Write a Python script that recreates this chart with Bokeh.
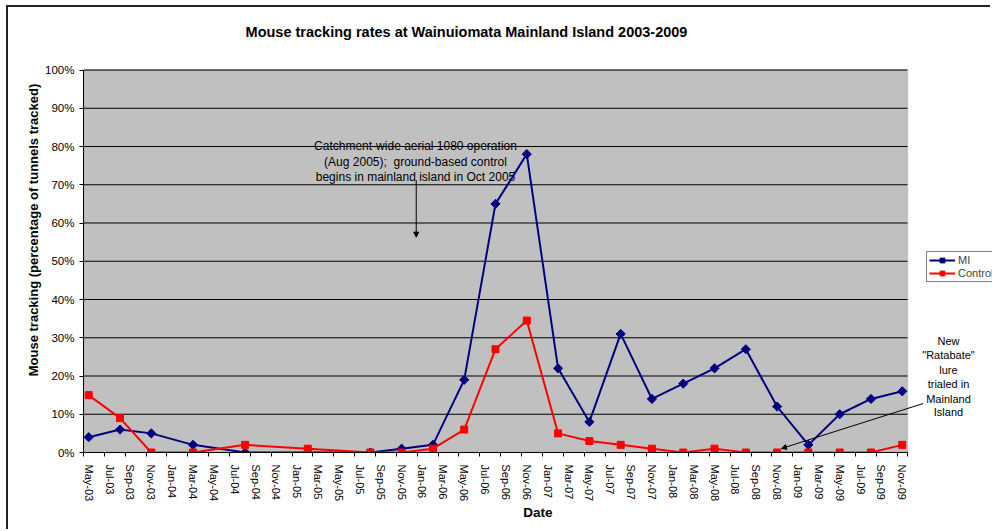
import math
import pandas as pd
from bokeh.plotting import figure
from bokeh.models import (Range1d, FixedTicker, PrintfTickFormatter, Legend, LegendItem,
                          Label, Arrow, NormalHead, BoxAnnotation)
from bokeh.embed import file_html
from bokeh.resources import INLINE

# ---------------- data ----------------
survey_dates = ["May-03", "Aug-03", "Nov-03", "Mar-04", "Aug-04", "Feb-05", "Aug-05", "Nov-05",
                "Feb-06", "May-06", "Aug-06", "Nov-06", "Feb-07", "May-07", "Aug-07", "Nov-07",
                "Feb-08", "May-08", "Aug-08", "Nov-08", "Feb-09", "May-09", "Aug-09", "Nov-09"]
mi_tracking = [4, 6, 5, 2, 0, 0, 0, 1, 2, 19, 65, 78, 22, 8, 31, 14, 18, 22, 27, 12, 2, 10, 14, 16]
control_tracking = [15, 9, 0, 0, 2, 1, 0, 0, 1, 6, 27, 34.5, 5, 3, 2, 1, 0, 1, 0, 0, 0, 0, 0, 2]
tick_labels = ["May-03", "Jul-03", "Sep-03", "Nov-03", "Jan-04", "Mar-04", "May-04", "Jul-04",
               "Sep-04", "Nov-04", "Jan-05", "Mar-05", "May-05", "Jul-05", "Sep-05", "Nov-05",
               "Jan-06", "Mar-06", "May-06", "Jul-06", "Sep-06", "Nov-06", "Jan-07", "Mar-07",
               "May-07", "Jul-07", "Sep-07", "Nov-07", "Jan-08", "Mar-08", "May-08", "Jul-08",
               "Sep-08", "Nov-08", "Jan-09", "Mar-09", "May-09", "Jul-09", "Sep-09", "Nov-09"]
y_ticks = [0, 10, 20, 30, 40, 50, 60, 70, 80, 90, 100]

START = pd.Timestamp("2003-05-01")


def month_index(lbl):
    d = pd.to_datetime(lbl, format="%b-%y")
    return (d.year - START.year) * 12 + d.month - START.month


x_pts = [month_index(s) for s in survey_dates]
tick_pos = [month_index(s) for s in tick_labels]

X_LO, X_HI = -0.5, tick_pos[-1] + 0.5      # plot-area extent (months)
Y_LO, Y_HI = y_ticks[0], y_ticks[-1]       # plot-area extent (%)

FONT = "Liberation Sans"

# The frame reaches the canvas top and right edge so that the title, legend and the
# side note (which lie outside the grey plot area) are not clipped.
p = figure(width=984, height=524, output_backend="svg", toolbar_location=None,
           x_range=Range1d(X_LO, 86.65), y_range=Range1d(Y_LO, 116.34),
           min_border_left=75, min_border_right=0, min_border_top=0, min_border_bottom=79)
p.styles = {"margin-left": "6px", "margin-top": "5px",
            "border-left": "2px solid #222222", "border-top": "2px solid #222222"}

p.background_fill_color = "white"
p.border_fill_color = "white"
p.outline_line_color = None

# grey plot area
p.add_layout(BoxAnnotation(left=X_LO, right=X_HI, bottom=Y_LO, top=Y_HI,
                           fill_color="#C0C0C0", fill_alpha=1,
                           line_color="#808080", line_width=1.5, level="image"))

# x axis
xa = p.xaxis[0]
xa.bounds = (X_LO, X_HI)
xa.ticker = FixedTicker(ticks=tick_pos, minor_ticks=[t - 0.5 for t in tick_pos] + [X_HI])
xa.major_label_overrides = {t: l for t, l in zip(tick_pos, tick_labels)}
xa.major_label_orientation = "vertical"
xa.major_tick_out = 0
xa.major_tick_in = 0
xa.minor_tick_out = 4
xa.minor_tick_in = 0
xa.minor_tick_line_color = "black"
xa.major_label_standoff = 8
xa.major_label_text_font = FONT
xa.major_label_text_font_size = "11px"
xa.major_label_text_color = "black"
xa.axis_line_color = "black"
xa.axis_label = "Date"
xa.axis_label_text_font = FONT
xa.axis_label_text_font_style = "bold"
xa.axis_label_text_font_size = "13.5px"
xa.axis_label_text_color = "black"
xa.axis_label_standoff = 1

# y axis
ya = p.yaxis[0]
ya.bounds = (Y_LO, Y_HI)
ya.ticker = FixedTicker(ticks=y_ticks)
ya.formatter = PrintfTickFormatter(format="%d%%")
ya.major_tick_out = 4
ya.major_tick_in = 0
ya.minor_tick_out = 0
ya.minor_tick_in = 0
ya.major_label_standoff = 5
ya.major_label_text_font = FONT
ya.major_label_text_font_size = "11.5px"
ya.major_label_text_color = "black"
ya.axis_line_color = "black"
ya.axis_label = "Mouse tracking (percentage of tunnels tracked)"
ya.axis_label_text_font = FONT
ya.axis_label_text_font_style = "bold"
ya.axis_label_text_font_size = "13px"
ya.axis_label_text_color = "black"
ya.axis_label_standoff = 1

p.xgrid.visible = False
p.ygrid.visible = False
# horizontal gridlines across the plot area only
p.segment(x0=X_LO, x1=X_HI, y0=y_ticks[1:], y1=y_ticks[1:], line_color="black", line_width=1)

# series
NAVY = "#000080"
RED = "#FF0000"
l1 = p.line(x_pts, mi_tracking, line_color=NAVY, line_width=2)
m1 = p.scatter(x_pts, mi_tracking, marker="square", angle=math.pi / 4, size=6.5,
               fill_color=NAVY, line_color=NAVY)
l2 = p.line(x_pts, control_tracking, line_color=RED, line_width=2)
m2 = p.scatter(x_pts, control_tracking, marker="square", size=7, fill_color=RED, line_color=RED)

legend = Legend(items=[LegendItem(label="MI", renderers=[l1, m1]),
                       LegendItem(label="Control", renderers=[l2, m2])],
                location=(843, 170), padding=2, spacing=1, margin=0,
                glyph_width=26, glyph_height=12, label_height=12, label_standoff=3,
                label_text_font=FONT, label_text_font_size="11px",
                border_line_color="black", border_line_width=1,
                background_fill_color="white", background_fill_alpha=1)
p.add_layout(legend)

# title
p.add_layout(Label(x=36.22, y=109.9,
                   text="Mouse tracking rates at Wainuiomata Mainland Island 2003-2009",
                   text_align="center", text_baseline="middle", text_font=FONT,
                   text_font_style="bold", text_font_size="14.5px", text_color="black"))

# annotation 1
note1 = ["Catchment-wide aerial 1080 operation",
         "(Aug 2005);\u00a0 ground-based control",
         "begins in mainland island in Oct 2005"]
note1_y = [80.1, 75.9, 72.0]
for t, yy in zip(note1, note1_y):
    p.add_layout(Label(x=31.33, y=yy, text=t, text_align="center", text_baseline="middle",
                       text_font=FONT, text_font_size="12px", text_color="black"))
p.add_layout(Arrow(end=NormalHead(size=5, fill_color="black", line_color="black"),
                   x_start=31.4, y_start=71.2, x_end=31.4, y_end=56.3,
                   line_color="black", line_width=1))

# annotation 2
note2 = ["New", "\"Ratabate\"", "lure", "trialed in", "Mainland", "Island"]
note2_y = [29.06, 25.39, 21.47, 17.80, 13.87, 10.47]
for t, yy in zip(note2, note2_y):
    p.add_layout(Label(x=82.43, y=yy, text=t, text_align="center", text_baseline="middle",
                       text_font=FONT, text_font_size="11px", text_color="black"))
p.add_layout(Arrow(end=NormalHead(size=5, fill_color="black", line_color="black"),
                   x_start=80.0, y_start=12.8, x_end=66.42, y_end=1.05,
                   line_color="black", line_width=1))

open("out.html", "w").write(file_html(p, INLINE))
